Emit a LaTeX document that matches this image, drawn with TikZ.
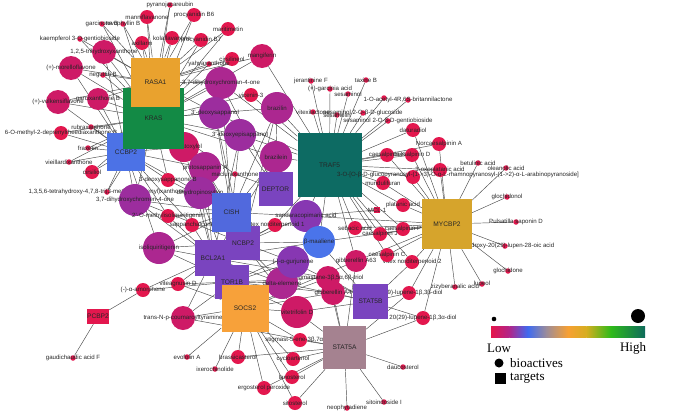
\documentclass[tikz,border=0pt]{standalone}
\usepackage{fontspec}
\setmainfont{Liberation Sans}
\newfontfamily\legfont{Liberation Serif}
\usetikzlibrary{backgrounds}
\definecolor{cr}{HTML}{E3174E}
\definecolor{pk}{HTML}{CE1A66}
\definecolor{mg}{HTML}{AC2790}
\definecolor{pu}{HTML}{9C2D9E}
\definecolor{vi}{HTML}{8737B2}
\definecolor{bl}{HTML}{4A74EA}
\definecolor{tOr}{HTML}{E9A22E}
\definecolor{tGr}{HTML}{138A45}
\definecolor{tBl}{HTML}{4C72E6}
\definecolor{tBl2}{HTML}{5169DD}
\definecolor{tTe}{HTML}{0D6B63}
\definecolor{tPu}{HTML}{7A44BF}
\definecolor{tOr2}{HTML}{F7A13A}
\definecolor{tMa}{HTML}{A58290}
\definecolor{tGo}{HTML}{D6A42C}
\definecolor{edgec}{HTML}{4A4A4A}
\definecolor{gA}{HTML}{E5154B}
\definecolor{gB}{HTML}{B0258A}
\definecolor{gC}{HTML}{3F6BF0}
\definecolor{gD}{HTML}{9C8C9A}
\definecolor{gE}{HTML}{F7A033}
\definecolor{gF}{HTML}{D6AE20}
\definecolor{gG}{HTML}{2EBA1A}
\definecolor{gH}{HTML}{0E6B5C}
\tikzset{
  cmp/.style={circle, inner sep=0pt, draw=none},
  lbl/.style={font=\fontsize{6.1}{6.5}\selectfont, text=black!85, inner sep=0pt},
  tg/.style={rectangle, inner sep=0pt, draw=none, font=\fontsize{6.6}{7}\selectfont, text=black!85},
  edge/.style={draw=edgec, line width=0.45pt},
  legtxt/.style={font=\legfont\fontsize{13}{14}\selectfont, inner sep=0pt}
}
\newcommand{\cpd}[5]{\node[cmp, minimum size=#3pt, fill=#4, label={[lbl]center:{#5}}] (#1) at (#2) {};}
\newcommand{\tgt}[5]{\node[tg, minimum size=#3pt, fill=#4] (#1) at (#2) {#5};}
\begin{document}
\begin{tikzpicture}[x=1pt,y=-1pt]
\useasboundingbox (0,0) rectangle (676,415);
% ---------- bioactives ----------
\cpd{c1}{170,5}{5.5}{cr}{pyranojacareubin}
\cpd{c2}{147,17}{14}{cr}{manniflavanone}
\cpd{c3}{194,15}{14}{cr}{procyanidin B6}
\cpd{c4}{102,24}{5.5}{cr}{garcinone B}
\cpd{c5}{123,24}{5.5}{cr}{tovophyllin B}
\cpd{c6}{80,39}{5.5}{cr}{kaempferol 3-O-gentiobioside}
\cpd{c7}{142,43}{14}{cr}{axillarin}
\cpd{c8}{172,38}{14}{cr}{kolaflavanone}
\cpd{c9}{201,40}{14}{cr}{procyanidin B7}
\cpd{c10}{228,29}{14}{cr}{maritimetin}
\cpd{c11}{104,52}{24}{pk}{1,2,5-trihydroxyxanthone}
\cpd{c12}{71,68}{24}{pk}{(+)-morelloflavone}
\cpd{c13}{103,75}{5.5}{cr}{neguttin B}
\cpd{c14}{58,102}{24}{pk}{(+)-volkensiflavone}
\cpd{c15}{98,99}{22}{pk}{garcixanthone B}
\cpd{c16}{91,127}{5.5}{cr}{rubraxanthone}
\cpd{c17}{61,133}{14}{cr}{6-O-methyl-2-deprenylrheediaxanthone B}
\cpd{c18}{88,148}{5.5}{cr}{fraxetin}
\cpd{c19}{69,162}{5.5}{cr}{vieillardixanthone}
\cpd{c20}{92,172}{14}{cr}{cirsiliol}
\cpd{c21}{107,192}{5.5}{cr}{1,3,5,6-tetrahydroxy-4,7,8-tri(3-methyl-2-butenyl)xanthone}
\cpd{c22}{262,56}{24}{pk}{mangiferin}
\cpd{c23}{232,59}{14}{cr}{cirsilineol}
\cpd{c24}{209,64}{5.5}{cr}{yahyaxanthone}
\cpd{c25}{221,83}{32}{mg}{3,7-dihydroxychroman-4-one}
\cpd{c26}{251,95}{14}{cr}{vicenin-3}
\cpd{c27}{215,113}{32}{pu}{3'-deoxysappanol}
\cpd{c28}{240,135}{32}{pu}{3'-deoxyepisappanol}
\cpd{c29}{277,108}{32}{mg}{brazilin}
\cpd{c30}{276,157}{32}{mg}{brazilein}
\cpd{c31}{184,147}{30}{pk}{haematoxylol}
\cpd{c32}{205,168}{32}{mg}{protosappanin A}
\cpd{c33}{200,193}{32}{pu}{dihydropinosylvin}
\cpd{c34}{168,180}{14}{cr}{3-deoxysappanone B}
\cpd{c35}{135,200}{32}{pu}{3,7-dihydroxychromen-4-one}
\cpd{c36}{168,216}{14}{cr}{2'-O-methylisoliquiritigenin}
\cpd{c37}{192,225}{14}{cr}{sappanchalcone}
\cpd{c38}{159,248}{32}{mg}{isoliquiritigenin}
\cpd{c39}{235,174}{5.5}{cr}{macluraxanthone}
\cpd{c40}{143,290}{14}{cr}{(-)-α-amorphene}
\cpd{c41}{73,358}{5.5}{cr}{gaudichaudic acid F}
\cpd{c42}{178,284}{14}{cr}{viteagnusin D}
\cpd{c43}{183,318}{24}{pk}{trans-N-p-coumaroyltyramine}
\cpd{c44}{187,357}{5.5}{cr}{evofolin A}
\cpd{c45}{215,369}{5.5}{cr}{ixerochinolide}
\cpd{c46}{238,357}{14}{cr}{brassicasterol}
\cpd{c47}{264,388}{14}{cr}{ergosterol peroxide}
\cpd{c48}{292,377}{14}{cr}{lanosterol}
\cpd{c49}{293,359}{14}{cr}{cycloartenol}
\cpd{c50}{295,403}{14}{cr}{sitosterol}
\cpd{c51}{300,340}{14}{cr}{stigmast-5-ene-3β,7α-diol}
\cpd{c52}{347,408}{5.5}{cr}{neophytadiene}
\cpd{c53}{384,402}{5.5}{cr}{sitoindoside I}
\cpd{c54}{403,367}{5.5}{cr}{daucosterol}
\cpd{c61}{328,278}{24}{pk}{stigmastane-3β,5α,6β-triol}
\cpd{c62}{333,293}{24}{pk}{gibberellin A4}
\cpd{c63}{356,261}{22}{pk}{gibberellin A63}
\cpd{c56}{282,283}{32}{mg}{delta-elemene}
\cpd{c55}{297,312}{32}{pk}{vitetrifolin D}
\cpd{c57}{293,262}{32}{vi}{(-)-α-gurjunene}
\cpd{c59}{306,216}{32}{vi}{sandaracopimaric acid}
\cpd{c60}{275,225}{14}{cr}{Vitex norditerpenoid 1}
\cpd{c58}{319,242}{32}{bl}{β-maaliene}
\cpd{c64}{409,293}{14}{cr}{20(29)-lupene-1β,3β-diol}
\cpd{c65}{423,318}{14}{cr}{20(29)-lupene-1β,3α-diol}
\cpd{c66}{412,262}{14}{cr}{Vitex norditerpenoid 2}
\cpd{c67}{387,255}{14}{cr}{caesalpinin C}
\cpd{c68}{355,228}{14}{cr}{sebacic acid}
\cpd{c70}{403,229}{14}{cr}{caesalpinin P}
\cpd{c69}{380,234}{14}{cr}{caesalpinin J}
\cpd{c71}{403,205}{14}{cr}{platanic acid}
\cpd{c72}{383,183}{14}{cr}{mundulifuran}
\cpd{c73}{413,177}{14}{cr}{}
\cpd{c74}{440,170}{14}{cr}{3-oxoplatanic acid}
\cpd{c75}{439,144}{14}{cr}{Norcaesalpinin A}
\cpd{c77}{387,155}{14}{cr}{caesalpinin K}
\cpd{c76}{412,155}{14}{cr}{caesalpinin D}
\cpd{c78}{413,130}{14}{cr}{daturadiol}
\cpd{c79}{478,163}{5.5}{cr}{betulinic acid}
\cpd{c80}{506,168}{5.5}{cr}{oleanolic acid}
\cpd{c81}{507,197}{5.5}{cr}{glochidonol}
\cpd{c82}{516,222}{5.5}{cr}{Pulsatilla saponin D}
\cpd{c83}{505,246}{5.5}{cr}{3β-hydroxy-20(29)-lupen-28-oic acid}
\cpd{c84}{508,271}{5.5}{cr}{glochidone}
\cpd{c85}{482,284}{5.5}{cr}{lupeol}
\cpd{c86}{455,287}{5.5}{cr}{zizyberanalic acid}
\cpd{c87}{311,81}{5.5}{cr}{jerantinine F}
\cpd{c88}{366,80}{5.5}{cr}{taxine B}
\cpd{c89}{330,89}{5.5}{cr}{(+)-garcinia acid}
\cpd{c90}{348,94}{5.5}{cr}{sesaminol}
\cpd{c91}{384,98}{5.5}{cr}{}
\cpd{c92}{408,100}{5.5}{cr}{1-O-acetyl-4R,6S-britannilactone}
\cpd{c93}{313,112}{5.5}{cr}{vitexilactone}
\cpd{c94}{337,115}{5.5}{cr}{sesamolin}
\cpd{c95}{363,113}{5.5}{cr}{sesaminol 2-O-β-D-glucoside}
\cpd{c96}{388,121}{5.5}{cr}{sesaminol 2-O-β-D-gentiobioside}
% ---------- targets ----------
\tgt{CCBP2}{126,152}{38}{tBl}{CCBP2}
\tgt{KRAS}{153.5,118}{61}{tGr}{KRAS}
\tgt{RASA1}{155.5,82}{49}{tOr}{RASA1}
\tgt{TRAF5}{329.5,165}{64}{tTe}{TRAF5}
\tgt{DEPTOR}{275.5,189}{34}{tPu}{DEPTOR}
\tgt{NCBP2}{243,243}{34}{tPu}{NCBP2}
\tgt{CISH}{231.5,212.5}{39}{tBl2}{CISH}
\tgt{BCL2A1}{213,258}{36}{tPu}{BCL2A1}
\tgt{TOR1B}{232,282}{34}{tPu}{TOR1B}
\tgt{SOCS2}{245,308}{47}{tOr2}{SOCS2}
\tgt{STAT5B}{370.5,301.5}{35}{tPu}{STAT5B}
\tgt{STAT5A}{344.5,347.5}{43}{tMa}{STAT5A}
\tgt{MYCBP2}{447,224}{50}{tGo}{MYCBP2}
\tgt{PCBP2}{98,316.5}{15}{cr}{PCBP2}
\node[tg, minimum size=6pt, fill=cr, label={[lbl]center:MCL-1}] (MCL1) at (377,210) {};
\node[lbl, anchor=west] (lng) at (337,175) {3-O-[O-β-D-glucopyranosyl-(1->3)-O-α-L-rhamnopyranosyl-(1->2)-α-L-arabinopyranoside]};
% ---------- edges ----------
\begin{scope}[on background layer]
\foreach \a in {c1,c2,c3,c4,c5,c6,c7,c8,c9,c10,c11,c12,c13,c14,c15,c22,c23,c24,c25,c27}
  \draw[edge] (\a) -- (RASA1);
\foreach \a in {c1,c2,c3,c4,c5,c6,c7,c8,c9,c10,c11,c12,c13,c14,c15,c16,c17,c18,c19,c20,c21,c22,c23,c24,c25,c26,c27,c28,c29,c30,c31,c32,c33,c34,c35,c39}
  \draw[edge] (\a) -- (KRAS);
\foreach \a in {c11,c12,c14,c15,c16,c17,c18,c19,c20,c21,c31,c32,c33,c34,c35,c36,c37,c38}
  \draw[edge] (\a) -- (CCBP2);
\foreach \a in {c22,c25,c26,c27,c28,c29,c30,c58,c59,c60,c63,c66,c67,c68,c69,c70,c71,c72,c73,c74,c75,c76,c77,c78,c87,c88,c89,c90,c91,c92,c93,c94,c95,c96}
  \draw[edge] (\a) -- (TRAF5);
\foreach \a in {c25,c28,c29,c30,c39,c59}
  \draw[edge] (\a) -- (DEPTOR);
\foreach \a in {c25,c27,c28,c29,c30,c31,c32,c33,c34,c35,c36,c37,c38,c59}
  \draw[edge] (\a) -- (CISH);
\foreach \a in {c27,c29,c32,c35,c38,c55,c56,c57,c58,c59,c60}
  \draw[edge] (\a) -- (NCBP2);
\foreach \a in {c28,c30,c31,c32,c33,c35,c36,c37,c38,c40,c42,c43,c56,c57,c58,c60,c61}
  \draw[edge] (\a) -- (BCL2A1);
\foreach \a in {c33,c38,c40,c42,c43,c55,c56,c57,c58,c61,c62}
  \draw[edge] (\a) -- (TOR1B);
\foreach \a in {c42,c43,c44,c45,c46,c47,c48,c49,c50,c51,c55,c56,c57,c61,c62,c63}
  \draw[edge] (\a) -- (SOCS2);
\foreach \a in {c43,c46,c47,c48,c49,c50,c51,c52,c53,c54,c55,c61,c62,c63,c64,c65}
  \draw[edge] (\a) -- (STAT5A);
\foreach \a in {c55,c56,c57,c58,c61,c62,c64,c65,c66}
  \draw[edge] (\a) -- (STAT5B);
\foreach \a in {c58,c59,c63,c64,c65,c66,c67,c68,c69,c70,c71,c72,c73,c74,c75,c76,c77,c78,c79,c80,c81,c82,c83,c84,c85,c86}
  \draw[edge] (\a) -- (MYCBP2);
\foreach \a in {c40,c41}
  \draw[edge] (\a) -- (PCBP2);
\draw[edge] (c59) -- (MCL1);
\end{scope}
% ---------- legend ----------
\node[circle, fill=black, inner sep=0pt, minimum size=4.6pt] (lsmall) at (494,319) {};
\node[circle, fill=black, inner sep=0pt, minimum size=14pt] (lbig) at (638,316) {};
\shade[left color=gA, right color=gB] (491,326) rectangle (509.5,337);
\shade[left color=gB, right color=gC] (509.3,326) rectangle (528,337);
\shade[left color=gC, right color=gD] (527.8,326) rectangle (546.4,337);
\shade[left color=gD, right color=gE] (546.2,326) rectangle (568,337);
\shade[left color=gE, right color=gF] (567.8,326) rectangle (586.5,337);
\shade[left color=gF, right color=gG] (586.3,326) rectangle (611,337);
\shade[left color=gG, right color=gH] (610.8,326) rectangle (645,337);
\node[legtxt] (low) at (499,348) {Low};
\node[legtxt] (high) at (633,348) {High};
\node[circle, fill=black, inner sep=0pt, minimum size=9pt] (lbio) at (499,363) {};
\node[legtxt, anchor=west] (tbio) at (510,363) {bioactives};
\node[rectangle, fill=black, inner sep=0pt, minimum size=11pt] (ltgt) at (500,378) {};
\node[legtxt, anchor=west] (ttgt) at (510,378) {targets};
\end{tikzpicture}
\end{document}
